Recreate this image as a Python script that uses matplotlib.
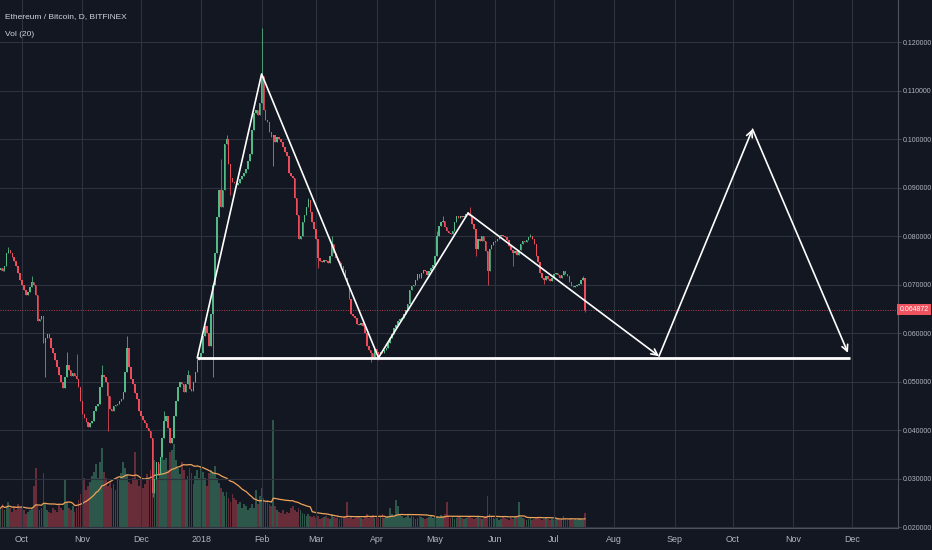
import numpy as np
import pandas as pd
import matplotlib
matplotlib.use('Agg')
import matplotlib.pyplot as plt
import matplotlib.dates as mdates

# ============================================================
# DATA  (ETH/BTC daily, Bitfinex)
# closes in units of 1e-4 BTC, one value per day from 2017-09-20
# ============================================================
first_open = 730
close_sep = [735, 728, 740, 765, 772, 765, 757, 750, 740, 725, 710]
close_oct = [700, 690, 680, 685, 695, 705, 700, 680, 625, 630, 635, 580, 590, 598, 590, 570,
             560, 545, 530, 515, 500, 488, 510, 535, 525, 512, 518, 512, 505, 490, 460]
close_nov = [433, 425, 418, 408, 415, 420, 440, 450, 455, 490, 515, 510, 500, 470, 445, 440,
             450, 452, 455, 460, 465, 480, 520, 570, 530, 505, 495, 478, 465, 440]
close_dec = [430, 422, 415, 405, 398, 385, 270, 300, 335, 310, 345, 385, 420, 430, 405, 375,
             385, 430, 460, 490, 500, 495, 480, 495, 515, 485, 482, 500, 520, 545, 552]
close_jan = [560, 595, 615, 600, 575, 640, 700, 765, 840, 895, 860, 895, 990, 1000, 950, 920,
             912, 910, 905, 910, 918, 925, 930, 940, 955, 970, 1020, 1055, 1060, 1050, 1075]
close_feb = [1130, 1060, 1040, 1035, 1015, 1005, 1010, 995, 1005, 1000, 995, 985, 975, 965,
             930, 925, 920, 880, 845, 795, 800, 830, 845, 860, 875, 850, 830, 815]
close_mar = [795, 755, 750, 748, 752, 750, 745, 760, 785, 765, 755, 750, 745, 740, 730, 715,
             700, 670, 640, 635, 632, 620, 618, 622, 615, 600, 575, 565, 560, 552, 568]
close_apr = [562, 558, 562, 560, 565, 570, 580, 590, 598, 612, 618, 625, 630, 632, 640, 648,
             660, 690, 698, 700, 710, 722, 715, 725, 730, 728, 720, 728, 735, 742]
close_may = [760, 800, 822, 830, 832, 820, 812, 808, 806, 812, 830, 842, 838, 842, 840, 843,
             846, 845, 842, 825, 815, 775, 795, 790, 800, 790, 770, 728, 775, 782, 788]
close_jun = [790, 795, 800, 802, 800, 798, 792, 780, 772, 765, 770, 762, 772, 785, 790, 788,
             792, 798, 800, 795, 785, 760, 748, 725, 715, 710, 718, 712, 708, 715]
close_jul = [722, 725, 720, 715, 720, 728, 722, 718, 705, 698, 695, 697, 700, 702, 710, 714,
             648.72]

# wicks that stick out of the bodies (day index: price, 1e-4 BTC)
high_wicks = {4: 778, 16: 719, 34: 562, 39: 557, 52: 535, 65: 594, 84: 440, 96: 525,
              113: 960, 116: 1010, 134: 1230, 135: 1100, 158: 880, 170: 800, 224: 812,
              227: 842, 241: 860, 272: 805, 299: 718}
low_wicks = {23: 510, 55: 398, 78: 262, 109: 510, 118: 885, 140: 945, 163: 735, 190: 542,
             194: 545, 244: 760, 250: 700, 263: 740, 279: 702, 300: 645}

# daily volume (relative units)
vol_sep = [20, 24, 18, 22, 26, 20, 16, 22, 18, 24, 20]
vol_oct = [22, 18, 14, 16, 18, 20, 42, 60, 22, 18, 20, 55, 24, 18, 16, 15, 20, 18, 16, 24,
           20, 18, 48, 26, 20, 18, 22, 16, 20, 28, 34]
vol_nov = [70, 50, 38, 42, 46, 52, 56, 64, 50, 66, 80, 56, 50, 42, 46, 40, 44, 38, 50, 48,
           55, 66, 60, 54, 46, 44, 50, 76, 48, 42]
vol_dec = [48, 40, 44, 54, 48, 58, 56, 68, 60, 50, 64, 72, 68, 70, 58, 76, 78, 84, 68, 60,
           54, 66, 58, 48, 52, 60, 55, 44, 52, 58, 50]
vol_jan = [62, 56, 50, 42, 55, 58, 55, 62, 50, 45, 40, 36, 32, 36, 30, 26, 34, 30, 28, 24,
           26, 20, 24, 22, 18, 20, 24, 20, 38, 24, 32]
vol_feb = [40, 30, 26, 28, 24, 22, 108, 22, 18, 16, 15, 18, 14, 16, 15, 20, 22, 18, 16, 20,
           18, 15, 14, 12, 14, 12, 11, 12]
vol_mar = [10, 12, 9, 10, 11, 12, 10, 9, 14, 11, 10, 12, 9, 10, 11, 12, 26, 10, 11, 9, 10,
           12, 11, 10, 9, 12, 14, 10, 11, 13, 10]
vol_apr = [11, 10, 12, 14, 10, 11, 12, 20, 14, 12, 28, 22, 14, 12, 10, 11, 13, 10, 12, 11,
           9, 10, 12, 11, 10, 9, 10, 11, 12, 10]
vol_may = [11, 12, 10, 13, 12, 14, 26, 12, 10, 11, 9, 10, 12, 11, 10, 9, 10, 12, 11, 10, 9,
           10, 12, 10, 9, 11, 12, 32, 14, 11, 10]
vol_jun = [9, 10, 8, 9, 11, 10, 9, 8, 10, 9, 11, 12, 26, 11, 10, 9, 8, 9, 10, 8, 9, 10, 11,
           9, 8, 9, 10, 9, 8, 9]
vol_jul = [8, 9, 10, 8, 9, 12, 9, 8, 9, 10, 8, 9, 8, 10, 9, 8, 15]

# hand drawn pattern lines (date, price)
pattern_pts = [('2017-12-30', 0.0550), ('2018-02-01', 0.1135), ('2018-04-02', 0.0550),
               ('2018-05-18', 0.0848)]
arrow_pts = [('2018-05-18', 0.0848), ('2018-08-24', 0.0553), ('2018-10-11', 0.1021),
             ('2018-11-29', 0.0560)]
neckline = [('2017-12-30', 0.0550), ('2018-11-30', 0.0550)]

month_labels = ['Oct', 'Nov', 'Dec', '2018', 'Feb', 'Mar', 'Apr', 'May', 'Jun', 'Jul',
                'Aug', 'Sep', 'Oct', 'Nov', 'Dec']
price_ticks = [0.02, 0.03, 0.04, 0.05, 0.06, 0.07, 0.08, 0.09, 0.10, 0.11, 0.12]

# ============================================================
# BUILD OHLC
# ============================================================
closes = np.array(close_sep + close_oct + close_nov + close_dec + close_jan + close_feb +
                  close_mar + close_apr + close_may + close_jun + close_jul) / 1e4
volume = np.array(vol_sep + vol_oct + vol_nov + vol_dec + vol_jan + vol_feb + vol_mar +
                  vol_apr + vol_may + vol_jun + vol_jul, dtype=float)
n = len(closes)
dates = pd.date_range('2017-09-20', periods=n, freq='D')
x = mdates.date2num(dates)

opens = np.concatenate([[first_open / 1e4], closes[:-1]])
highs = np.maximum(opens, closes)
lows = np.minimum(opens, closes)
for i, v in high_wicks.items():
    highs[i] = max(highs[i], v / 1e4)
for i, v in low_wicks.items():
    lows[i] = min(lows[i], v / 1e4)

up = closes >= opens

# ============================================================
# STYLE
# ============================================================
BG = '#131722'
GRID = '#2d323e'
TXT = '#b2b5be'
GREEN = '#53b987'
RED = '#eb4d5c'

plt.rcParams['font.family'] = ['Liberation Sans', 'DejaVu Sans']

fig = plt.figure(figsize=(9.32, 5.5), dpi=100, facecolor=BG)
ax = fig.add_axes([0, 22 / 550, 898 / 932, 528 / 550])
vax = ax.twinx()
vax.set_zorder(ax.get_zorder() - 1)
ax.patch.set_visible(False)
vax.patch.set_facecolor(BG)

# ============================================================
# VOLUME
# ============================================================
vcol = np.where(up, GREEN, RED)
vax.bar(x, volume, width=0.9, color=vcol, alpha=0.4, linewidth=0)
vol_ma = pd.Series(volume).rolling(20, min_periods=1).mean()
vax.plot(x, vol_ma, color='#f0a35a', lw=0.9)
vax.set_ylim(0, volume.max() * 4.9)
vax.set_yticks([])
for s in vax.spines.values():
    s.set_visible(False)

# ============================================================
# CANDLES
# ============================================================
ccol = np.where(up, GREEN, RED)
ax.vlines(x, lows, highs, colors=ccol, lw=0.7, alpha=0.8, zorder=3)
body = np.maximum(np.abs(closes - opens), 0.00015)
ax.bar(x, body, bottom=np.minimum(opens, closes), width=0.78, color=ccol,
       linewidth=0, zorder=4)

# last price line + label
last = closes[-1]
ax.axhline(last, color='#b5404f', lw=0.7, ls=(0, (1, 1.5)), zorder=2)
ax.text(1.0015, last, f'{last:.6f}', transform=ax.get_yaxis_transform(),
        ha='left', va='center', color='white', fontsize=5.0, clip_on=False,
        bbox=dict(boxstyle='square,pad=0.3', fc='#ef5360', ec='none'))

# ============================================================
# DRAWINGS
# ============================================================
px = mdates.date2num(pd.to_datetime([p[0] for p in pattern_pts]))
ax.plot(px, [p[1] for p in pattern_pts], color='white', lw=1.2, zorder=6)
nx = mdates.date2num(pd.to_datetime([p[0] for p in neckline]))
ax.plot(nx, [p[1] for p in neckline], color='white', lw=2.0, zorder=6,
        solid_capstyle='butt')
ax_pts = [(mdates.date2num(pd.Timestamp(d)), v) for d, v in arrow_pts]
for (x0, y0), (x1, y1) in zip(ax_pts[:-1], ax_pts[1:]):
    ax.annotate('', xy=(x1, y1), xytext=(x0, y0), zorder=6,
                arrowprops=dict(arrowstyle='->', color='white', lw=1.2,
                                mutation_scale=11, shrinkA=0, shrinkB=0))

# ============================================================
# AXES
# ============================================================
x0 = mdates.date2num(pd.Timestamp('2017-10-01')) - 22 / 1.948
x1 = mdates.date2num(pd.Timestamp('2017-10-01')) + (898 - 22) / 1.948
ax.set_xlim(x0, x1)
vax.set_xlim(x0, x1)
ax.set_ylim(0.019875, 0.12875)

month_pos = mdates.date2num(pd.date_range('2017-10-01', periods=len(month_labels), freq='MS'))
ax.set_xticks(month_pos)
ax.set_xticklabels(month_labels)
ax.yaxis.tick_right()
ax.set_yticks(price_ticks)
ax.set_yticklabels([f'{v:.6f}' for v in price_ticks])
ax.tick_params(axis='x', colors=TXT, labelsize=6.4, length=0, pad=5)
ax.tick_params(axis='y', colors=TXT, labelsize=5.0, length=2.5, width=0.6, pad=1.0)
ax.tick_params(axis='y', color='#4c525e')

ax.grid(True, color=GRID, lw=0.8)
ax.set_axisbelow(True)
for k in ('top', 'left'):
    ax.spines[k].set_visible(False)
for k in ('right', 'bottom'):
    ax.spines[k].set_color('#4c525e')
    ax.spines[k].set_linewidth(0.8)

# legend texts
fig.text(5 / 932, 1 - 17 / 550, 'Ethereum / Bitcoin, D, BITFINEX', color='#d1d4dc',
         fontsize=6.0, va='center', ha='left')
fig.text(5 / 932, 1 - 34 / 550, 'Vol (20)', color='#d1d4dc', fontsize=6.0,
         va='center', ha='left')

fig.savefig('out.png', dpi=100, facecolor=BG)
